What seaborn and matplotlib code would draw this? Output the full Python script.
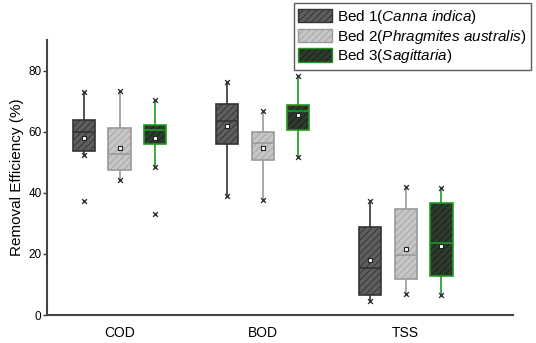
import matplotlib
matplotlib.use("Agg")
import matplotlib.pyplot as plt
from matplotlib.colors import to_rgba
from matplotlib.patches import Patch
import numpy as np
import pandas as pd
import seaborn as sns

# box statistics (whisker low, Q1, median, Q3, whisker high)
params = ["COD", "BOD", "TSS"]
beds = ["Bed 1", "Bed 2", "Bed 3"]
bed_labels = [r"Bed 1($\it{Canna\ indica}$)",
              r"Bed 2($\it{Phragmites\ australis}$)",
              r"Bed 3($\it{Sagittaria}$)"]

whis_lo = [[52.3, 44.3, 48.3], [39.1, 37.5, 51.8], [4.5, 7.0, 6.5]]
q1 = [[53.7, 47.4, 56.1], [55.9, 50.9, 60.5], [6.7, 11.9, 12.7]]
median = [[59.8, 52.6, 60.6], [63.4, 56.3, 66.7], [15.3, 19.7, 23.5]]
q3 = [[63.9, 61.1, 62.3], [69.1, 60.0, 68.8], [28.9, 34.6, 36.7]]
whis_hi = [[73.1, 73.2, 70.4], [76.2, 66.9, 78.1], [37.2, 41.8, 41.5]]
means = [[57.9, 54.6, 58.1], [61.8, 54.7, 65.4], [17.9, 21.7, 22.7]]
# isolated points (param index, bed index, value)
outliers = [(0, 0, 37.4), (0, 2, 33.1)]

face_colors = ["#5e5e5e", "#c6c6c6", "#2e3a2e"]
edge_colors = ["#333333", "#9a9a9a", "#1f9a1f"]
hatch_colors = ["#2e2e2e", "#a2a2a2", "#182018"]

plt.rcParams["font.family"] = ["Liberation Sans", "DejaVu Sans"]
plt.rcParams["mathtext.fontset"] = "custom"
plt.rcParams["mathtext.rm"] = "Liberation Sans"
plt.rcParams["mathtext.it"] = "Liberation Sans:italic"
plt.rcParams["hatch.linewidth"] = 0.6

rows = []
for i, p in enumerate(params):
    for j, b in enumerate(beds):
        for v in [whis_lo[i][j], q1[i][j], median[i][j], q3[i][j], whis_hi[i][j]]:
            rows.append({"param": p, "bed": b, "value": v})
df = pd.DataFrame(rows)

fig = plt.figure(figsize=(5.36, 3.43), dpi=100)
ax = fig.add_axes([0.0877, 0.0816, 0.957 - 0.0877, 0.883 - 0.0816])

width = 0.75
gap = 0.38
sns.boxplot(data=df, x="param", y="value", hue="bed", order=params, hue_order=beds,
            whis=(0, 100), width=width, gap=gap, showcaps=False, fliersize=0,
            palette=face_colors, linewidth=1.2, legend=False, ax=ax)

step = width / len(beds)


def hue_of(x):
    off = x - np.round(x)
    return int(np.clip(np.round(off / step) + 1, 0, 2))


def style_patch(patch, k):
    patch.set_facecolor(face_colors[k])
    patch.set_edgecolor(edge_colors[k])
    patch.set_hatch("/////")
    patch._hatch_color = to_rgba(hatch_colors[k])


for patch in ax.patches:
    verts = patch.get_path().vertices
    style_patch(patch, hue_of(verts[:, 0].mean()))
for line in ax.lines:
    xd = np.asarray(line.get_xdata(), dtype=float)
    if len(xd) == 0:
        continue
    line.set_color(edge_colors[hue_of(xd.mean())])

# whisker-end markers, outliers and means
mk = []
for i in range(len(params)):
    for j in range(len(beds)):
        x = i + (j - 1) * step
        mk.append({"x": x, "y": whis_lo[i][j], "kind": "end"})
        mk.append({"x": x, "y": whis_hi[i][j], "kind": "end"})
        mk.append({"x": x, "y": means[i][j], "kind": "mean"})
for i, j, v in outliers:
    mk.append({"x": i + (j - 1) * step, "y": v, "kind": "end"})
mk = pd.DataFrame(mk)

sns.scatterplot(data=mk[mk.kind == "end"], x="x", y="y", marker="x", s=12,
                color="#333333", linewidth=1.0, ax=ax, legend=False, zorder=5)
sns.scatterplot(data=mk[mk.kind == "mean"], x="x", y="y", marker="s", s=12,
                facecolor="white", edgecolor="#222222", linewidth=0.8,
                ax=ax, legend=False, zorder=6)

ax.set_xlim(-0.507, 2.75)
ax.set_ylim(0, 90)
ax.set_yticks([0, 20, 40, 60, 80])
ax.set_xticks(range(len(params)))
ax.set_xticklabels(params, fontsize=10)
ax.tick_params(axis="y", labelsize=8.5, length=3, width=1, color="#333333", pad=1)
ax.tick_params(axis="x", length=0, pad=8)
ax.set_xlabel("")
ax.set_ylabel("Removal Efficiency (%)", fontsize=11, labelpad=3)
for s in ["top", "right"]:
    ax.spines[s].set_visible(False)
for s in ["left", "bottom"]:
    ax.spines[s].set_color("#444444")
    ax.spines[s].set_linewidth(1.5)

handles = []
for k in range(3):
    h = Patch(label=bed_labels[k])
    style_patch(h, k)
    handles.append(h)
leg = fig.legend(handles=handles, loc="upper right", bbox_to_anchor=(0.991, 0.991),
                 fontsize=11, frameon=True, fancybox=False, edgecolor="#333333",
                 handlelength=2.2, handleheight=0.95, handletextpad=0.35,
                 labelspacing=0.12, borderpad=0.3, borderaxespad=0)
leg.get_frame().set_linewidth(1.0)

fig.savefig("out.png", dpi=100)
